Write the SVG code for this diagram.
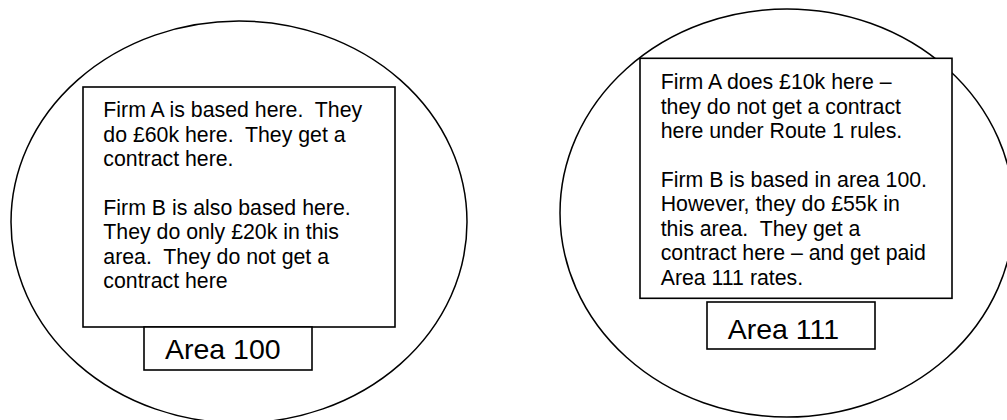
<svg xmlns="http://www.w3.org/2000/svg" width="1007" height="420" viewBox="0 0 1007 420">
<style>
.area{fill:#fff;stroke:#000;stroke-width:1.5}
.box{fill:#fff;stroke:#000;stroke-width:1.6}
.t{font-family:"Liberation Sans",Arial,sans-serif;font-size:21.3px;fill:#000}
.lbl{font-family:"Liberation Sans",Arial,sans-serif;font-size:28.5px;fill:#000}
</style>
<rect width="1007" height="420" fill="#fff"/>
<g id="area100">
<ellipse class="area" cx="239" cy="222" rx="228" ry="201"/>
<g id="note100">
<rect class="box" x="83" y="87" width="312" height="240"/>
<text class="t" xml:space="preserve"><tspan x="103.3" y="117.3">Firm A is based here.  They</tspan><tspan x="103.3" y="141.7">do £60k here.  They get a</tspan><tspan x="103.3" y="166.1">contract here.</tspan><tspan x="103.3" y="214.9">Firm B is also based here.</tspan><tspan x="103.3" y="239.3">They do only £20k in this</tspan><tspan x="103.3" y="263.7">area.  They do not get a</tspan><tspan x="103.3" y="288.1">contract here</tspan></text>
</g>
<g id="label100">
<rect class="box" x="144" y="327" width="168" height="43"/>
<text class="lbl" x="165" y="359">Area 100</text>
</g>
</g>
<g id="area111">
<ellipse class="area" cx="787" cy="213" rx="227" ry="204"/>
<g id="note111">
<rect class="box" x="640" y="58.3" width="312" height="240"/>
<text class="t" xml:space="preserve"><tspan x="660.7" y="89.3">Firm A does £10k here –</tspan><tspan x="660.7" y="113.7">they do not get a contract</tspan><tspan x="660.7" y="138.1">here under Route 1 rules.</tspan><tspan x="660.7" y="186.9">Firm B is based in area 100.</tspan><tspan x="660.7" y="211.3">However, they do £55k in</tspan><tspan x="660.7" y="235.7">this area.  They get a</tspan><tspan x="660.7" y="260.1">contract here – and get paid</tspan><tspan x="660.7" y="284.5">Area 111 rates.</tspan></text>
</g>
<g id="label111">
<rect class="box" x="707" y="302" width="168" height="47"/>
<text class="lbl" x="727.7" y="339.3">Area 111</text>
</g>
</g>
<g id="connectors"/>
</svg>
